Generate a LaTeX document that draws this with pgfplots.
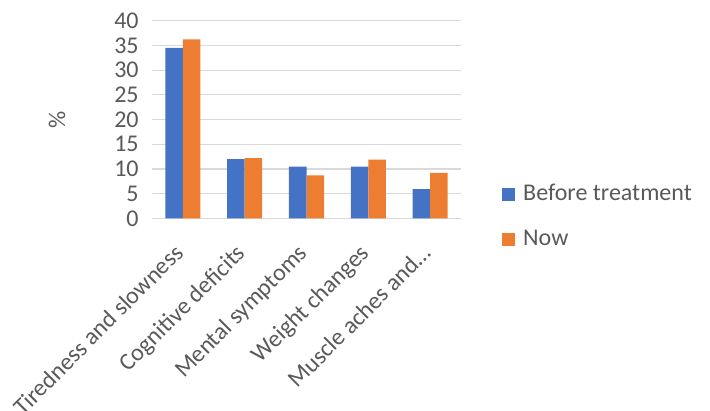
\documentclass[border=0pt]{standalone}
\usepackage{fontspec}
\setmainfont{Carlito}
\usepackage{pgfplots}
\pgfplotsset{compat=1.18}
\definecolor{exblue}{HTML}{4472C4}
\definecolor{exorange}{HTML}{ED7D31}
\definecolor{txtgray}{HTML}{595959}
\definecolor{gridgray}{HTML}{D9D9D9}

\begin{document}
\fontsize{12}{14}\selectfont
\begin{tikzpicture}
\path[use as bounding box] (-76pt,-96.35pt) rectangle (279pt,109.15pt);
\begin{axis}[
  at={(0,0)}, anchor=south west,
  scale only axis, width=154.5pt, height=98.8pt,
  clip=false,
  ybar=0pt, bar width=8.75pt,
  xmin=-0.5, xmax=4.5, ymin=0, ymax=40,
  ytick={0,5,...,40},
  xtick={0,...,4},
  xticklabels={Tiredness and slowness, Cognitive deficits, Mental symptoms, Weight changes, Muscle aches and…},
  /pgf/number format/assume math mode=true,
  axis x line*=bottom, axis y line*=left,
  y axis line style={draw=none},
  x axis line style={gridgray, line width=0.6pt, -},
  major tick length=0pt,
  ymajorgrids, grid style={gridgray, line width=0.6pt},
  tick label style={txtgray, font=\fontsize{12}{14}\selectfont},
  yticklabel style={anchor=east, inner sep=0pt, xshift=-6.5pt},
  xticklabel style={inner sep=0pt, xshift=-5pt, yshift=-12pt, rotate=45, anchor=north east},
  legend style={at={(axis description cs:1.1327,0.005)}, anchor=west, draw=none,
    fill=none, inner sep=0pt, row sep=11.5pt, text=txtgray,
    font=\fontsize{12}{14}\selectfont,
    nodes={inner sep=0pt, text height=8.5pt, text depth=2.5pt},
    /tikz/every odd column/.append style={column sep=4pt}},
  legend cell align=left,
  legend image code/.code={\fill[#1] (0pt,-3.2pt) rectangle (6.4pt,3.2pt);},
]
\addplot[draw=none, fill=exblue] coordinates {(0,34.5) (1,12.0) (2,10.45) (3,10.45) (4,5.9)};
\addplot[draw=none, fill=exorange] coordinates {(0,36.2) (1,12.2) (2,8.7) (3,11.9) (4,9.2)};
\legend{Before treatment, Now}
\node[txtgray, rotate=90] at (axis description cs:-0.3074,0.5) {\%};
\end{axis}
\end{tikzpicture}
\end{document}
